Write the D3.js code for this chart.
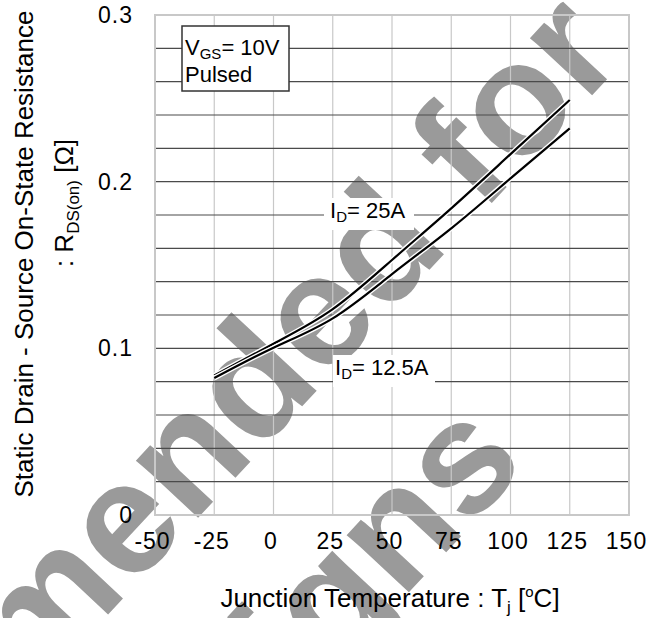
<!DOCTYPE html>
<html>
<head>
<meta charset="utf-8">
<script src="https://cdn.jsdelivr.net/npm/d3@7"></script>
<style>
  body { margin: 0; background: #fff; }
  svg text { font-family: "Liberation Sans", Arial, sans-serif; }
</style>
</head>
<body>
<svg id="chart" width="661" height="618"></svg>
<script>
// data
var tempC   = [-25, 0, 25, 50, 75, 100, 125];
var rds25A  = [0.0837, 0.1028, 0.1235, 0.153, 0.184, 0.2165, 0.249];
var rds12A  = [0.0822, 0.1004, 0.118, 0.1445, 0.172, 0.202, 0.232];
var xTicks  = [-50, -25, 0, 25, 50, 75, 100, 125, 150];
var yTicks  = [0, 0.1, 0.2, 0.3];
var yGrid   = [0.02, 0.04, 0.06, 0.08, 0.1, 0.12, 0.14, 0.16, 0.18, 0.2, 0.22, 0.24, 0.26, 0.28];

var svg = d3.select("svg#chart");

var x = d3.scaleLinear().domain([-50, 150]).range([155, 629]);
var y = d3.scaleLinear().domain([0, 0.3]).range([515, 15]);

// watermark (behind everything)
var wm = svg.append("g")
  .attr("transform", "translate(627,58) rotate(-47)");
wm.append("text").attr("x", 0).attr("y", 0)
  .attr("text-anchor", "end").attr("font-size", 160).attr("font-weight", "bold")
  .style("fill", "#9a9a9a").text("Not recommended for");
wm.append("text").attr("x", -364).attr("y", 205)
  .attr("text-anchor", "end").attr("font-size", 160).attr("font-weight", "bold")
  .style("fill", "#9a9a9a").text("new designs");

// grid
svg.append("g").selectAll("line").data(xTicks.slice(1, -1)).enter()
  .append("line")
  .attr("x1", d => x(d)).attr("x2", d => x(d))
  .attr("y1", y(0)).attr("y2", y(0.3))
  .attr("stroke", "#c8c8c8").attr("stroke-width", 1.2);

svg.append("g").selectAll("line").data(yGrid).enter()
  .append("line")
  .attr("x1", x(-50)).attr("x2", x(150))
  .attr("y1", d => y(d)).attr("y2", d => y(d))
  .attr("stroke", "#4a4a4a").attr("stroke-width", 1.1);

// frame
svg.append("rect")
  .attr("x", x(-50)).attr("y", y(0.3))
  .attr("width", x(150) - x(-50)).attr("height", y(0) - y(0.3))
  .attr("fill", "none").attr("stroke", "#c8c8c8").attr("stroke-width", 2);

// curves (white casing + black line)
var line = d3.line()
  .x((d, i) => x(tempC[i]))
  .y(d => y(d))
  .curve(d3.curveNatural);

[rds25A, rds12A].forEach(function(s) {
  svg.append("path")
    .attr("d", line(s))
    .attr("fill", "none")
    .attr("stroke", "#fff")
    .attr("stroke-width", 5);
  svg.append("path")
    .attr("d", line(s))
    .attr("fill", "none")
    .attr("stroke", "#000")
    .attr("stroke-width", 2.2);
});

// axes (labels only)
var xAxis = svg.append("g")
  .attr("transform", "translate(-3," + 533 + ")")
  .call(d3.axisBottom(x).tickValues(xTicks).tickSize(0).tickPadding(0).tickFormat(d => String(d)));
xAxis.select(".domain").remove();
xAxis.selectAll("text")
  .attr("font-size", 23).attr("letter-spacing", 1)
  .attr("font-family", "Liberation Sans, Arial, sans-serif")
  .attr("fill", "#000");

var yAxis = svg.append("g")
  .attr("transform", "translate(133,0)")
  .call(d3.axisLeft(y).tickValues(yTicks).tickSize(0).tickPadding(0)
    .tickFormat(d => d === 0 ? "0" : d3.format(".1f")(d)));
yAxis.select(".domain").remove();
yAxis.selectAll("text")
  .attr("font-size", 23).attr("letter-spacing", 1)
  .attr("font-family", "Liberation Sans, Arial, sans-serif")
  .attr("fill", "#000");

// condition box
svg.append("rect")
  .attr("x", 182).attr("y", 26).attr("width", 107).attr("height", 65)
  .attr("fill", "#fff").attr("stroke", "#333").attr("stroke-width", 1.5);
var t1 = svg.append("text").attr("x", 185).attr("y", 55).attr("font-size", 22);
t1.append("tspan").text("V");
t1.append("tspan").attr("font-size", 15).attr("dy", 4).text("GS");
t1.append("tspan").attr("dy", -4).text("=  10V");
svg.append("text").attr("x", 185).attr("y", 82).attr("font-size", 22).text("Pulsed");

// curve labels
function curveLabel(px, py, val, bx, bw) {
  svg.append("rect").attr("x", bx).attr("y", py - 20).attr("width", bw).attr("height", 32)
    .attr("fill", "#fff");
  var t = svg.append("text").attr("x", px).attr("y", py).attr("font-size", 22);
  t.append("tspan").text("I");
  t.append("tspan").attr("font-size", 15).attr("dy", 4).text("D");
  t.append("tspan").attr("dy", -4).text("= " + val);
}
curveLabel(330, 218, "25A", 324, 90);
curveLabel(335, 375, "12.5A", 333, 102);

// axis titles
var xt = svg.append("text").attr("x", 390).attr("y", 607)
  .attr("text-anchor", "middle").attr("font-size", 26);
xt.append("tspan").text("Junction Temperature : T");
xt.append("tspan").attr("font-size", 17).attr("dy", 6).text("j");
xt.append("tspan").attr("dy", -6).text(" [");
xt.append("tspan").attr("font-size", 15).attr("dy", -10).text("o");
xt.append("tspan").attr("dy", 10).text("C]");

svg.append("text")
  .attr("transform", "translate(33,254) rotate(-90)")
  .attr("text-anchor", "middle").attr("font-size", 26)
  .text("Static Drain - Source On-State Resistance");

var yt = svg.append("text")
  .attr("transform", "translate(73,203) rotate(-90)")
  .attr("text-anchor", "middle").attr("font-size", 26);
yt.append("tspan").text(": R");
yt.append("tspan").attr("font-size", 17).attr("dy", 6).text("DS(on)");
yt.append("tspan").attr("dy", -6).text(" [Ω]");
</script>
</body>
</html>
